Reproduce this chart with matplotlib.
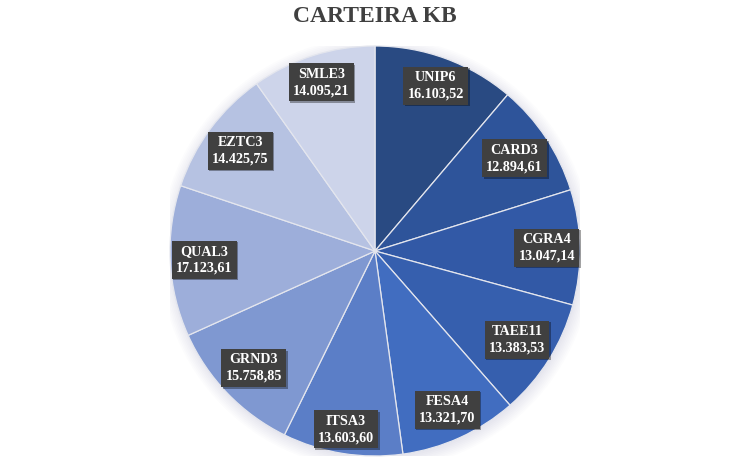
import numpy as np
import matplotlib
matplotlib.use("Agg")
import matplotlib.pyplot as plt
import matplotlib.transforms as mtransforms

# Data
tickers = ["UNIP6", "CARD3", "CGRA4", "TAEE11", "FESA4",
           "ITSA3", "GRND3", "QUAL3", "EZTC3", "SMLE3"]
values = [16103.52, 12894.61, 13047.14, 13383.53, 13321.70,
          13603.60, 15758.85, 17123.61, 14425.75, 14095.21]
colors = ["#294A82", "#2E549A", "#3259A6", "#365FAE", "#416DC0",
          "#5B7EC7", "#7F98D1", "#9DAEDA", "#B6C2E2", "#CDD4EA"]


def br_fmt(v):
    s = f"{v:,.2f}"
    return s.replace(",", "X").replace(".", ",").replace("X", ".")


plt.rcParams["font.family"] = ["Liberation Serif", "DejaVu Serif"]

W, H = 750, 467
fig = plt.figure(figsize=(W / 100, H / 100), dpi=100)
fig.patch.set_facecolor("white")

# pie axes: centre (375, 251) px from top, radius 205 px
R = 205
cx, cy = 375, H - 251
ax = fig.add_axes([(cx - R) / W, (cy - R) / H, 2 * R / W, 2 * R / H])

# soft shadow behind the pie
for i in range(8):
    ax.add_patch(plt.Circle((0.006, -0.012), 1.0 + 0.008 * i,
                            color="#8090B0", alpha=0.025, lw=0, zorder=0))

wedges, _ = ax.pie(values, colors=colors, startangle=90, counterclock=False,
                   radius=1.0, wedgeprops=dict(edgecolor="#E4E6EE", linewidth=0.9))
for w in wedges:
    w.set_zorder(2)

ax.set_xlim(-1, 1)
ax.set_ylim(-1, 1)
ax.set_aspect("equal")
ax.axis("off")

# labels inside end of each slice
total = sum(values)
cum = 0.0
hw, hh = 31 / R, 17.5 / R
for name, v in zip(tickers, values):
    mid = np.deg2rad((cum + v / 2) / total * 360)
    cum += v
    sx, sy = np.sin(mid), np.cos(mid)
    ext = abs(sx) * hw + abs(sy) * hh
    d = 1.0 - ext - 2 / R
    x, y = d * sx, d * sy
    label = f"{name}\n{br_fmt(v)}"
    shadow = mtransforms.offset_copy(ax.transData, fig=fig, x=1.5, y=-1.5, units="dots")
    ax.text(x, y, label, transform=shadow, ha="center", va="center",
            fontsize=10.2, fontweight="bold", color=(0, 0, 0, 0), linespacing=1.35,
            bbox=dict(boxstyle="square,pad=0.3", fc="#000000", ec="none", alpha=0.35),
            zorder=4)
    ax.text(x, y, label, ha="center", va="center", fontsize=10.2,
            fontweight="bold", color="white", linespacing=1.35,
            bbox=dict(boxstyle="square,pad=0.3", fc="#404040", ec="none"),
            zorder=5)

fig.text(0.5, 1 - 17 / H, "CARTEIRA KB", ha="center", va="center",
         fontsize=17, fontweight="bold", color="#404040")

fig.savefig("out.png", dpi=100)
